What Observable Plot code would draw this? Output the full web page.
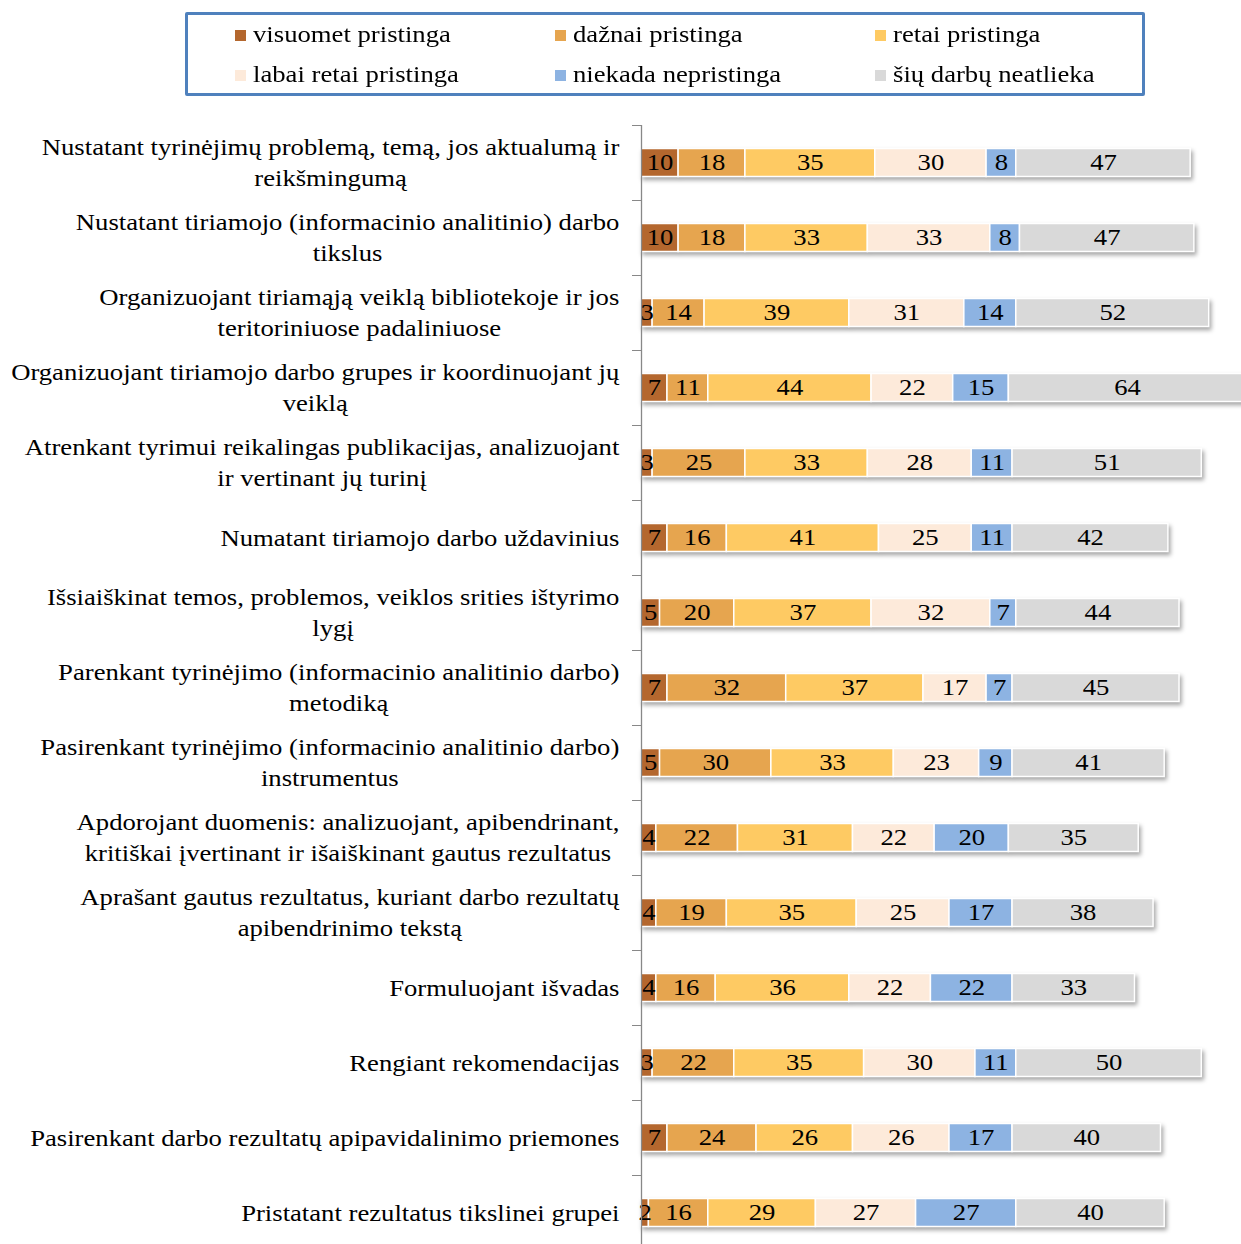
<!DOCTYPE html>
<html><head><meta charset="utf-8">
<script src="https://cdn.jsdelivr.net/npm/d3@7"></script>
<script src="https://cdn.jsdelivr.net/npm/@observablehq/plot@0.6"></script>
<style>
html,body{margin:0;padding:0;width:1241px;height:1244px;overflow:hidden;background:#fff;font-family:"Liberation Serif","Times New Roman",serif;}
#legend{position:absolute;left:185px;top:12px;width:954px;height:78px;border:3px solid #4F81BD;border-radius:2px;box-sizing:content-box;}
.item{position:absolute;font-size:23px;line-height:24px;height:24px;color:#000;display:flex;align-items:center;white-space:nowrap;}
.sw{width:11px;height:11px;margin-right:7px;flex:none;}
.tx{display:inline-block;transform:scaleX(1.16);transform-origin:0 50%;}
#chart{position:absolute;left:0;top:100px;}
</style></head><body>
<div id="legend"></div><div id="chart"></div>
<script>
const labelLines = [
  ["Nustatant tyrinėjimų problemą, temą, jos aktualumą ir", "reikšmingumą"],
  ["Nustatant tiriamojo (informacinio analitinio) darbo", "tikslus"],
  ["Organizuojant tiriamąją veiklą bibliotekoje ir jos", "teritoriniuose padaliniuose"],
  ["Organizuojant tiriamojo darbo grupes ir koordinuojant jų", "veiklą"],
  ["Atrenkant tyrimui reikalingas publikacijas, analizuojant", "ir vertinant jų turinį"],
  ["Numatant tiriamojo darbo uždavinius"],
  ["Išsiaiškinat temos, problemos, veiklos srities ištyrimo", "lygį"],
  ["Parenkant tyrinėjimo (informacinio analitinio darbo)", "metodiką"],
  ["Pasirenkant tyrinėjimo (informacinio analitinio darbo)", "instrumentus"],
  ["Apdorojant duomenis: analizuojant, apibendrinant,", "kritiškai įvertinant ir išaiškinant gautus rezultatus"],
  ["Aprašant gautus rezultatus, kuriant darbo rezultatų", "apibendrinimo tekstą"],
  ["Formuluojant išvadas"],
  ["Rengiant rekomendacijas"],
  ["Pasirenkant darbo rezultatų apipavidalinimo priemones"],
  ["Pristatant rezultatus tikslinei grupei"]
];
const categories = labelLines.map(l => l.join(" "));

const series = ["visuomet pristinga", "dažnai pristinga", "retai pristinga", "labai retai pristinga", "niekada nepristinga", "šių darbų neatlieka"];
const colors = ["#B4672E", "#E6A54F", "#FECA63", "#FDEADA", "#8DB3E2", "#D9D9D9"];

const visuomet   = [10, 10, 3, 7, 3, 7, 5, 7, 5, 4, 4, 4, 3, 7, 2];
const daznai     = [18, 18, 14, 11, 25, 16, 20, 32, 30, 22, 19, 16, 22, 24, 16];
const retai      = [35, 33, 39, 44, 33, 41, 37, 37, 33, 31, 35, 36, 35, 26, 29];
const labaiRetai = [30, 33, 31, 22, 28, 25, 32, 17, 23, 22, 25, 22, 30, 26, 27];
const niekada    = [8, 8, 14, 15, 11, 11, 7, 7, 9, 20, 17, 22, 11, 17, 27];
const neatlieka  = [47, 47, 52, 64, 51, 42, 44, 45, 41, 35, 38, 33, 50, 40, 40];

const seriesValues = [visuomet, daznai, retai, labaiRetai, niekada, neatlieka];
const rows = [];
series.forEach((s, si) => categories.forEach((c, ci) => rows.push({cat: c, series: s, value: seriesValues[si][ci]})));

const STRETCH = 1.16;

// legend
const legend = document.getElementById("legend");
series.forEach((s, i) => {
  const col = i % 3, row = Math.floor(i / 3);
  const it = document.createElement("div");
  it.className = "item";
  it.style.left = (47 + col * 320) + "px";
  it.style.top = (8 + row * 40) + "px";
  const sw = document.createElement("span");
  sw.className = "sw"; sw.style.background = colors[i];
  it.appendChild(sw);
  const tx = document.createElement("span");
  tx.className = "tx"; tx.textContent = s;
  it.appendChild(tx);
  legend.appendChild(it);
});

const lineMap = new Map(categories.map((c, i) => [c, labelLines[i].join("\n")]));

const chart = Plot.plot({
  width: 1241,
  height: 1150,
  marginLeft: 641,
  marginRight: 0,
  marginTop: 25,
  marginBottom: 0,
  x: {domain: [0, 161.7], axis: null},
  y: {domain: categories, padding: 0, axis: null},
  color: {domain: series, range: colors},
  style: {fontFamily: "'Liberation Serif', 'Times New Roman', serif", fontSize: "23px", color: "#000", background: "white", overflow: "visible"},
  marks: [
    Plot.barX(rows, Plot.stackX({x: "value", y: "cat", fill: "series", insetTop: 23.5, insetBottom: 23.5, stroke: "white", strokeWidth: 1.5})),
    Plot.text(rows, Plot.stackX({x: "value", y: "cat", z: "series", text: "value", fill: "black", fontSize: 23})),
    Plot.axisY({label: null, tickSize: 0, tickPadding: 22, fontSize: 23, lineHeight: 1.35, dy: -2, tickFormat: d => lineMap.get(d), fill: "black"}),
    Plot.axisY({label: null, tickSize: 9, tickFormat: () => "", dy: -37.5, stroke: "#888"}),
    Plot.ruleX([0], {stroke: "#888", strokeWidth: 1.3})
  ]
});
document.getElementById("chart").appendChild(chart);

function stretchText(el) {
  const t = el.getAttribute("transform") || "";
  el.setAttribute("transform", `${t} scale(${STRETCH},1)`);
}

// center multi-line labels within their block (block right-aligned)
d3.select(chart).selectAll('g[aria-label="y-axis tick label"] text').each(function() {
  const tspans = this.querySelectorAll("tspan");
  if (tspans.length > 1) {
    let maxW = 0;
    tspans.forEach(t => { maxW = Math.max(maxW, t.getComputedTextLength()); });
    this.setAttribute("text-anchor", "middle");
    tspans.forEach(t => t.setAttribute("x", -maxW / 2));
  }
  stretchText(this);
});
d3.select(chart).selectAll('g[aria-label="text"] text').each(function() { stretchText(this); });
d3.select(chart).selectAll('g[aria-label="bar"]').style("filter", "drop-shadow(2px 3px 2px rgba(0,0,0,0.35))");
</script></body></html>
